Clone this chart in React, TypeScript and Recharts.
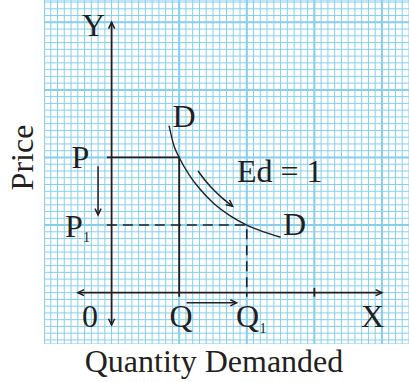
import { LineChart, Line, XAxis, YAxis, CartesianGrid, ReferenceLine } from 'recharts';

const INK = '#231f20';
const GRID = '#86cfef';
const FONT = '"Liberation Serif", "Times New Roman", serif';

// graph paper: one unit = one small square
const gridX = Array.from({ length: 55 }, (_, i) => i - 10);
const gridY = Array.from({ length: 51 }, (_, i) => i - 7);
const majorX = [-10, 10, 20, 30, 40];
const majorY = [10, 20, 30, 40];

// demand curve D (quantity, price), Ed = 1
const demandCurve = [
  { q: 8.5, p: 24.7 },
  { q: 9.2, p: 21.8 },
  { q: 10, p: 20 },
  { q: 11.5, p: 17.4 },
  { q: 13, p: 15.4 },
  { q: 15, p: 13.3 },
  { q: 17.5, p: 11.4 },
  { q: 20, p: 10 },
  { q: 22.5, p: 9.0 },
  { q: 25, p: 8.2 },
];

// P -> Q rectangle (solid) and P1 -> Q1 rectangle (dashed)
const rectP = [{ q: -0.7, p: 20 }, { q: 10, p: 20 }, { q: 10, p: -0.6 }];
const rectP1 = [{ q: -0.7, p: 10 }, { q: 20, p: 10 }, { q: 20, p: -0.6 }];

// axes
const axisX = [{ q: -5, p: 0 }, { q: 40, p: 0 }];
const axisY = [{ q: 0, p: -4.8 }, { q: 0, p: 40 }];
const tickX = [{ q: 30, p: 0.7 }, { q: 30, p: -0.6 }];

// movement arrows
const priceFall = [{ q: -2, p: 18.7 }, { q: -2, p: 11.5 }];
const qtyRise = [{ q: 11.1, p: -1.5 }, { q: 18.5, p: -1.5 }];
const alongCurve = [
  { q: 12.8, p: 18.0 },
  { q: 14.0, p: 16.4 },
  { q: 15.3, p: 15.0 },
  { q: 16.6, p: 13.8 },
  { q: 17.9, p: 12.8 },
];

type Pt = { q: number; p: number };

// arrow head drawn at the start and/or end point of a series
const arrowDot = (pts: Pt[], atStart: boolean, atEnd: boolean) => (props: any) => {
  const { cx, cy, index } = props;
  const last = pts.length - 1;
  let from: Pt | null = null;
  if (index === last && atEnd) from = pts[last - 1];
  else if (index === 0 && atStart) from = pts[1];
  if (!from || cx == null) return <g key={`n${index}`} />;
  const tip = pts[index];
  const ang = Math.atan2(-(tip.p - from.p), tip.q - from.q);
  const len = 7;
  const spread = 0.45;
  const a1 = ang + Math.PI - spread;
  const a2 = ang + Math.PI + spread;
  return (
    <path
      key={`h${index}`}
      d={`M${cx + len * Math.cos(a1)},${cy + len * Math.sin(a1)} L${cx},${cy} L${cx + len * Math.cos(a2)},${cy + len * Math.sin(a2)}`}
      fill="none"
      stroke={INK}
      strokeWidth={1.5}
    />
  );
};

const seg = (key: string, data: Pt[], extra: any = {}) => (
  <Line
    key={key}
    data={data}
    dataKey="p"
    type="linear"
    stroke={INK}
    strokeWidth={1.8}
    dot={false}
    activeDot={false}
    isAnimationActive={false}
    {...extra}
  />
);

export default function App() {
  const txt = { fontFamily: FONT, fill: INK, fontSize: 32 };
  return (
    <div style={{ position: 'absolute', left: 0, top: 0, width: 409, height: 382, background: '#fff', overflow: 'hidden' }}>
      <div style={{ position: 'absolute', left: 44, top: 0 }}>
        <LineChart width={365} height={344} margin={{ top: 0, right: 0, bottom: 0, left: 0 }}>
          <XAxis type="number" dataKey="q" domain={[-10, 44]} ticks={gridX} interval={0} allowDataOverflow hide />
          <YAxis type="number" dataKey="p" domain={[-7.6, 43.3]} ticks={gridY} interval={0} allowDataOverflow hide />
          <CartesianGrid stroke={GRID} strokeWidth={1} />
          {majorX.map((v) => (
            <ReferenceLine key={`mx${v}`} x={v} stroke={GRID} strokeWidth={2} />
          ))}
          {majorY.map((v) => (
            <ReferenceLine key={`my${v}`} y={v} stroke={GRID} strokeWidth={2} />
          ))}
          {seg('rp', rectP)}
          {seg('rp1', rectP1, { strokeDasharray: '10 6', strokeWidth: 1.6 })}
          {seg('ax', axisX, { dot: arrowDot(axisX, true, true) })}
          {seg('ay', axisY, { dot: arrowDot(axisY, true, true) })}
          {seg('tx', tickX)}
          {seg('pf', priceFall, { strokeWidth: 1.5, dot: arrowDot(priceFall, false, true) })}
          {seg('qr', qtyRise, { strokeWidth: 1.5, dot: arrowDot(qtyRise, false, true) })}
          {seg('ac', alongCurve, { type: 'monotone', strokeWidth: 1.5, dot: arrowDot(alongCurve, false, true) })}
          {seg('dd', demandCurve, { type: 'monotone', strokeWidth: 1.4 })}
        </LineChart>
      </div>
      <svg width={409} height={382} style={{ position: 'absolute', left: 0, top: 0, pointerEvents: 'none' }}>
        <text {...txt} transform="translate(33,157.5) rotate(-90)" textAnchor="middle">Price</text>
        <text {...txt} x={214} y={372} textAnchor="middle">Quantity Demanded</text>
        <text {...txt} x={93.5} y={36} textAnchor="middle">Y</text>
        <text {...txt} x={80.5} y={168} textAnchor="middle">P</text>
        <text {...txt} x={74} y={237} textAnchor="middle">P</text>
        <text {...txt} x={86.5} y={242} fontSize={14} textAnchor="middle">1</text>
        <text {...txt} x={184} y={127} textAnchor="middle">D</text>
        <text {...txt} x={237} y={181.5}>Ed = 1</text>
        <text {...txt} x={283} y={235}>D</text>
        <text {...txt} x={90} y={327} textAnchor="middle">0</text>
        <text {...txt} x={181} y={327} textAnchor="middle">Q</text>
        <text {...txt} x={247.5} y={327} textAnchor="middle">Q</text>
        <text {...txt} x={263} y={333} fontSize={14} textAnchor="middle">1</text>
        <text {...txt} x={372.5} y={327} textAnchor="middle">X</text>
      </svg>
    </div>
  );
}
